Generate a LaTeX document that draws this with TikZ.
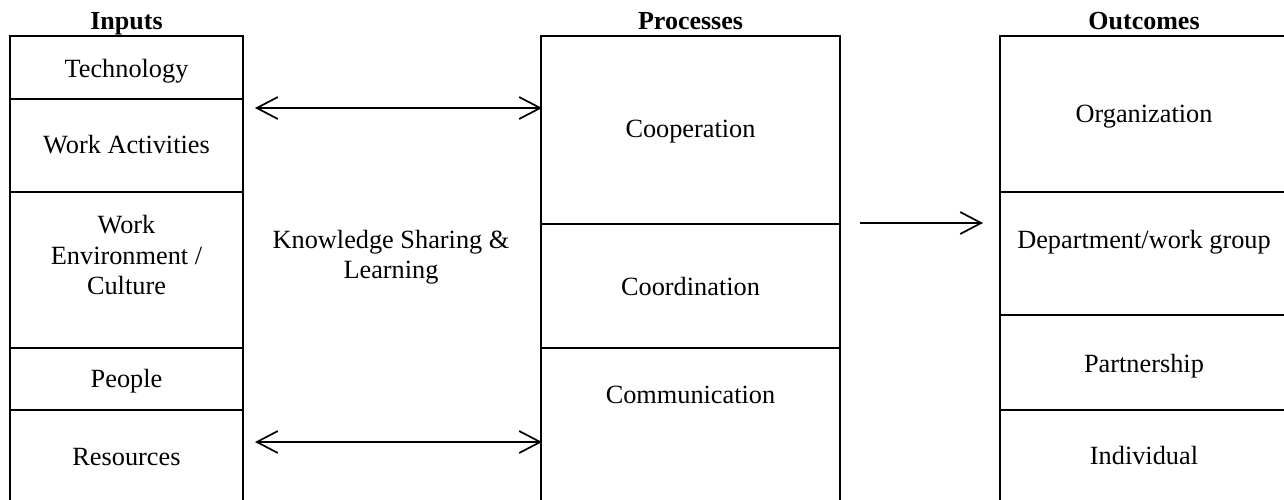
\documentclass[tikz,border=0pt]{standalone}
\usepackage{fontspec}
\setmainfont{Liberation Serif}
\usetikzlibrary{arrows.meta}
\begin{document}
\begin{tikzpicture}[x=1pt,y=-1pt,
  cellline/.style={draw=black, line width=1.8pt},
  lbl/.style={font=\fontsize{26.3}{30.5}\selectfont, inner sep=0pt, anchor=base},
  mlbl/.style={font=\fontsize{26.3}{30.5}\selectfont, inner sep=0pt, align=center, anchor=center},
  head/.style={font=\fontsize{26}{30}\selectfont\bfseries, inner sep=0pt, anchor=base},
  flow/.style={draw=black, line width=1.7pt, {Straight Barb[length=21pt,width=22pt]}-{Straight Barb[length=21pt,width=22pt]}},
  flowone/.style={draw=black, line width=1.7pt, -{Straight Barb[length=21pt,width=22pt]}}]
\clip (0,0) rectangle (1284,499);
\fill[white] (0,0) rectangle (1284,499);

% column headings
\node[head] (hIn)   at (126.5,29) {Inputs};
\node[head] (hProc) at (690.5,29) {Processes};
\node[head] (hOut)  at (1144,29)  {Outcomes};

% inputs column
\draw[cellline] (10,36) rectangle (243,99);
\draw[cellline] (10,99) rectangle (243,192);
\draw[cellline] (10,192) rectangle (243,348);
\draw[cellline] (10,348) rectangle (243,410);
\draw[cellline] (10,410) rectangle (243,540);
\node[lbl]  (tech)   at (126.5,77)  {Technology};
\node[lbl]  (act)    at (126.5,153) {Work Activities};
\node[mlbl] (env)    at (126.5,255) {Work\\Environment /\\Culture};
\node[lbl]  (people) at (126.5,387) {People};
\node[lbl]  (res)    at (126.5,465) {Resources};

% knowledge sharing label between inputs and processes
\node[mlbl] (ksl) at (391,257) {Knowledge Sharing \&\\Learning};

% processes column
\draw[cellline] (541,36) rectangle (840,224);
\draw[cellline] (541,224) rectangle (840,348);
\draw[cellline] (541,348) rectangle (840,540);
\node[lbl] (coop)  at (690.5,137) {Cooperation};
\node[lbl] (coord) at (690.5,295) {Coordination};
\node[lbl] (comm)  at (690.5,403) {Communication};

% outcomes column
\draw[cellline] (1000,36) rectangle (1288,192);
\draw[cellline] (1000,192) rectangle (1288,315);
\draw[cellline] (1000,315) rectangle (1288,410);
\draw[cellline] (1000,410) rectangle (1288,540);
\node[lbl] (org)   at (1144,122) {Organization};
\node[lbl] (dept)  at (1144,248) {Department/work group};
\node[lbl] (part)  at (1144,372) {Partnership};
\node[lbl] (indiv) at (1144,464) {Individual};

% arrow end points
\coordinate (inTop)    at (255,108);
\coordinate (procTop)  at (542,108);
\coordinate (inBot)    at (255,442);
\coordinate (procBot)  at (542,442);
\coordinate (procOut)  at (860,223);
\coordinate (outIn)    at (983,223);

\draw[flow] (inTop) -- (procTop);
\draw[flow] (inBot) -- (procBot);
\draw[flowone] (procOut) -- (outIn);
\end{tikzpicture}
\end{document}
